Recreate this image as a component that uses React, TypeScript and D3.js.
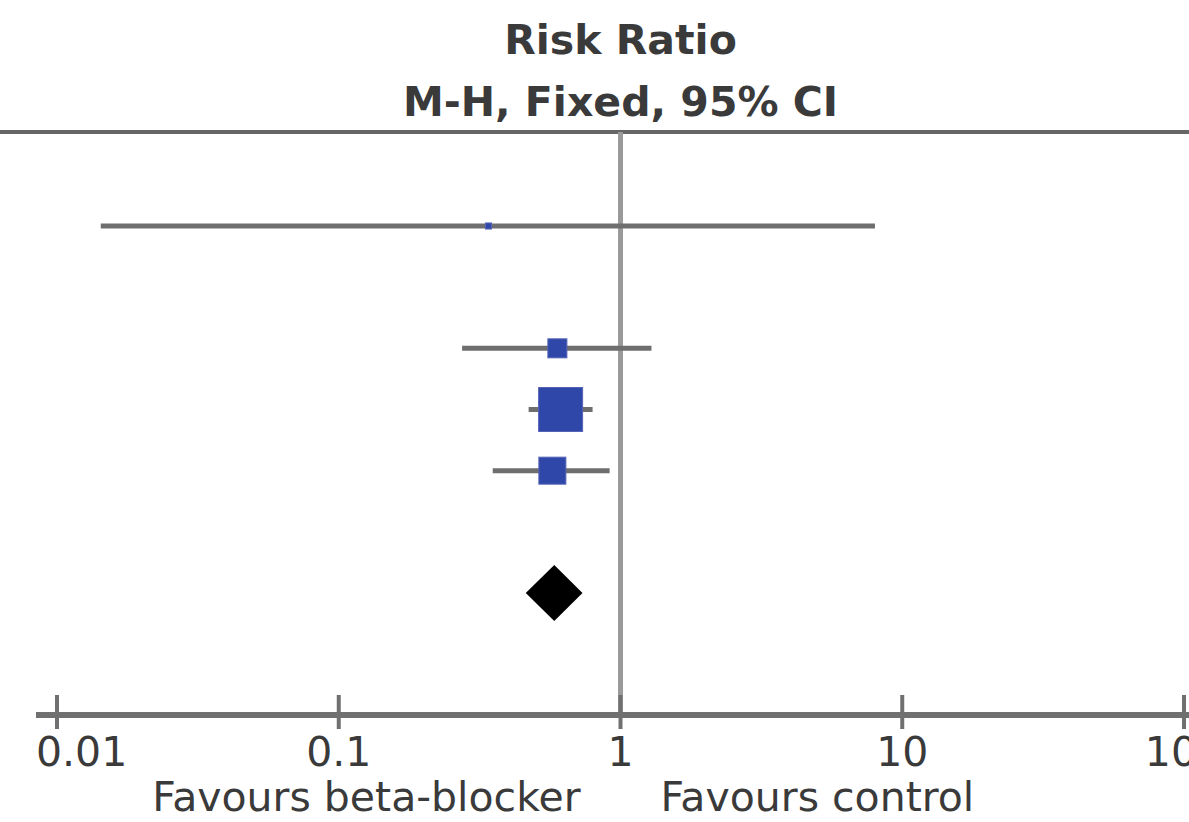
// react
import { useEffect, useRef } from "react";

// d3
import * as d3 from "d3";

// study rows (risk ratio, 95% CI, weight %)
const studyRows = [0, 2, 3, 4];
const studyRR = [0.34, 0.597, 0.613, 0.573];
const studyLower = [0.0143, 0.274, 0.472, 0.352];
const studyUpper = [8.0, 1.288, 0.796, 0.915];
const studyWeight = [1.2, 11.8, 63.2, 23.8];

// pooled estimate
const totalRow = 6;
const totalRR = 0.582;
const totalLower = 0.461;
const totalUpper = 0.733;

// axis
const tickValues = [0.01, 0.1, 1, 10, 100];
const tickLabels = ["0.01", "0.1", "1", "10", "100"];
const titleLines = ["Risk Ratio", "M-H, Fixed, 95% CI"];
const leftLabel = "Favours beta-blocker";
const rightLabel = "Favours control";

const W = 1189;
const H = 822;
const FONT = "'DejaVu Sans', sans-serif";

export default function App() {
  const ref = useRef<SVGSVGElement>(null);

  useEffect(() => {
    document.body.style.margin = "0";
    if (!ref.current) return;
    const svg = d3.select(ref.current);
    svg.selectAll("*").remove();

    const x = d3.scaleLog().domain([0.01, 100]).range([57, 1184]);
    const y = d3.scaleLinear().domain([0, 6]).range([226, 593]);
    const size = d3.scaleSqrt().domain([0, 63.2]).range([0, 44]);

    const topY = 132;
    const axisY = 715;
    const axisLeft = 36;

    svg.append("rect").attr("width", W).attr("height", H).attr("fill", "#fff");

    // Title
    svg
      .selectAll("text.title")
      .data(titleLines)
      .join("text")
      .attr("class", "title")
      .attr("x", x(1))
      .attr("y", (_, i) => 54 + i * 62)
      .attr("text-anchor", "middle")
      .attr("font-family", FONT)
      .attr("font-weight", "bold")
      .attr("font-size", 41)
      .attr("fill", "#3a3a3a")
      .text((d) => d);

    // Header rule
    svg
      .append("line")
      .attr("x1", 0)
      .attr("x2", W)
      .attr("y1", topY)
      .attr("y2", topY)
      .attr("stroke", "#666")
      .attr("stroke-width", 4);

    // Line of no effect
    svg
      .append("line")
      .attr("x1", x(1))
      .attr("x2", x(1))
      .attr("y1", topY)
      .attr("y2", axisY)
      .attr("stroke", "#9a9a9a")
      .attr("stroke-width", 5);

    // CI lines
    svg
      .selectAll("line.ci")
      .data(studyRows)
      .join("line")
      .attr("class", "ci")
      .attr("x1", (_, i) => x(studyLower[i]))
      .attr("x2", (_, i) => x(studyUpper[i]))
      .attr("y1", (d) => y(d))
      .attr("y2", (d) => y(d))
      .attr("stroke", "#6e6e6e")
      .attr("stroke-width", 5);

    // Study squares
    svg
      .selectAll("rect.pt")
      .data(studyRows)
      .join("rect")
      .attr("class", "pt")
      .attr("x", (_, i) => x(studyRR[i]) - size(studyWeight[i]) / 2)
      .attr("y", (d, i) => y(d) - size(studyWeight[i]) / 2)
      .attr("width", (_, i) => size(studyWeight[i]))
      .attr("height", (_, i) => size(studyWeight[i]))
      .attr("fill", "#2f47a8")
      .attr("stroke", "#5563b5")
      .attr("stroke-width", 1);

    // Pooled diamond
    const dy = y(totalRow);
    const hh = 28;
    svg
      .append("path")
      .attr(
        "d",
        `M${x(totalLower)},${dy}L${x(totalRR)},${dy - hh}L${x(totalUpper)},${dy}L${x(totalRR)},${dy + hh}Z`,
      )
      .attr("fill", "#000");

    // Axis
    const axis = svg.append("g").attr("transform", `translate(0,${axisY})`);
    axis
      .append("line")
      .attr("x1", axisLeft)
      .attr("x2", W)
      .attr("stroke", "#707070")
      .attr("stroke-width", 6);
    axis
      .selectAll("line.tick")
      .data(tickValues)
      .join("line")
      .attr("class", "tick")
      .attr("x1", (d) => x(d))
      .attr("x2", (d) => x(d))
      .attr("y1", -20)
      .attr("y2", 14)
      .attr("stroke", "#707070")
      .attr("stroke-width", 4);
    axis
      .selectAll("text")
      .data(tickValues)
      .join("text")
      .attr("x", (d) => x(d))
      .attr("y", 51)
      .attr("text-anchor", "middle")
      .attr("font-family", FONT)
      .attr("font-size", 41)
      .attr("fill", "#3a3a3a")
      .text((_, i) => tickLabels[i])
      .each(function () {
        // keep the first label inside the axis start
        const t = this as SVGTextElement;
        const half = t.getComputedTextLength() / 2;
        const cx = +t.getAttribute("x")!;
        if (cx - half < axisLeft) t.setAttribute("x", String(axisLeft + half));
      });

    // Direction labels
    svg
      .append("text")
      .attr("x", x(1) - 40)
      .attr("y", 811)
      .attr("text-anchor", "end")
      .attr("font-family", FONT)
      .attr("font-size", 41)
      .attr("fill", "#3a3a3a")
      .text(leftLabel);
    svg
      .append("text")
      .attr("x", x(1) + 40)
      .attr("y", 811)
      .attr("text-anchor", "start")
      .attr("font-family", FONT)
      .attr("font-size", 41)
      .attr("fill", "#3a3a3a")
      .text(rightLabel);
  }, []);

  return <svg ref={ref} width={W} height={H} style={{ display: "block" }} />;
}
